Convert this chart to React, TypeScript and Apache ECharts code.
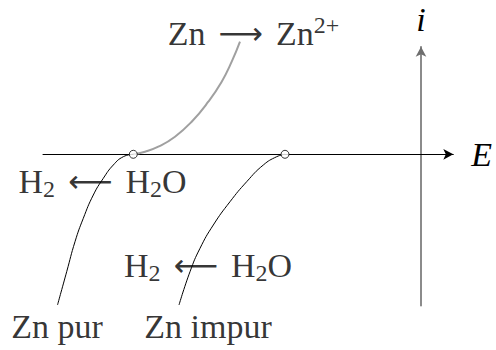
import React, { useEffect, useRef } from "react";
import * as echarts from "echarts";

// Potential E (x) and current i (y), arbitrary units
const oxidationPur: [number, number][] = [
  [-28.77, 0], [-27.6, 0.26], [-26.27, 0.76], [-24.6, 1.76], [-22.93, 3.26],
  [-21.27, 5.26], [-19.93, 7.26], [-18.93, 9.26], [-18.1, 11.26],
];
const reductionPur: [number, number][] = [
  [-28.77, 0], [-29.77, -0.24], [-30.77, -1.07], [-31.77, -2.4], [-32.77, -4.07],
  [-33.77, -6.4], [-34.6, -8.74], [-35.43, -11.74], [-36.35, -15.07],
];
const reductionImpur: [number, number][] = [
  [-13.6, 0], [-14.43, -0.24], [-15.77, -1.07], [-17.43, -2.74], [-19.1, -4.74],
  [-20.77, -7.07], [-22.1, -9.4], [-23.1, -11.74], [-24.2, -15.07],
];
const mixedPotentials: [number, number][] = [[-28.77, 0], [-13.6, 0]];

const labelTexts = [
  "Zn{arr|⟶}Zn{sup|2+}",
  "H{sub|2}{arr|⟵}H{sub|2}O",
  "H{sub|2}{arr|⟵}H{sub|2}O",
  "Zn pur",
  "Zn impur",
];
const labelPositions: [number, number][] = [
  [-16.75, 12.1], [-31.85, -2.7], [-21.3, -11.07], [-36.4, -17.2], [-21.3, -17.2],
];

const E_MIN = -37.8;
const E_MAX = 3.23;
const I_MIN = -15.14;
const I_MAX = 10.76;

const FONT = "'Liberation Serif', 'DejaVu Serif', serif";

export default function App() {
  const ref = useRef<HTMLDivElement>(null);
  useEffect(() => {
    if (!ref.current) return;
    const chart = echarts.init(ref.current, null, { renderer: "svg" });
    const baseText = { fontFamily: FONT, fontSize: 34, color: "#000" };
    chart.setOption({
      animation: false,
      backgroundColor: "#fff",
      grid: { left: 43, right: 42.7, top: 46.7, bottom: 44.3 },
      xAxis: {
        type: "value",
        min: E_MIN,
        max: E_MAX,
        name: "E",
        nameLocation: "end",
        nameGap: 18,
        nameTextStyle: { ...baseText, fontStyle: "italic" },
        axisLine: {
          show: true,
          onZero: true,
          symbol: ["none", "arrow"],
          symbolSize: [8, 10],
          lineStyle: { color: "#000", width: 1 },
        },
        axisTick: { show: false },
        axisLabel: { show: false },
        splitLine: { show: false },
      },
      yAxis: {
        type: "value",
        min: I_MIN,
        max: I_MAX,
        name: "i",
        nameLocation: "end",
        nameGap: 10,
        nameTextStyle: { ...baseText, fontStyle: "italic" },
        axisLine: {
          show: true,
          onZero: true,
          symbol: ["none", "arrow"],
          symbolSize: [8, 10],
          lineStyle: { color: "#6e6e6e", width: 1.6 },
        },
        axisTick: { show: false },
        axisLabel: { show: false },
        splitLine: { show: false },
      },
      series: [
        {
          type: "line",
          data: oxidationPur,
          smooth: true,
          showSymbol: false,
          clip: false,
          lineStyle: { color: "#a0a0a0", width: 2 },
          z: 2,
        },
        {
          type: "line",
          data: reductionPur,
          smooth: true,
          showSymbol: false,
          clip: false,
          lineStyle: { color: "#000", width: 1 },
          z: 2,
        },
        {
          type: "line",
          data: reductionImpur,
          smooth: true,
          showSymbol: false,
          clip: false,
          lineStyle: { color: "#000", width: 1 },
          z: 2,
        },
        {
          type: "scatter",
          data: mixedPotentials,
          symbol: "circle",
          symbolSize: 8,
          clip: false,
          itemStyle: { color: "#fff", borderColor: "#000", borderWidth: 1 },
          z: 5,
        },
        {
          type: "scatter",
          data: labelPositions.map((p, k) => ({ value: p, name: labelTexts[k] })),
          symbolSize: 0,
          clip: false,
          silent: true,
          label: {
            show: true,
            position: "inside",
            formatter: (p: any) => p.name,
            ...baseText,
            lineHeight: 40,
            rich: {
              sub: { fontFamily: FONT, fontSize: 24, lineHeight: 20, verticalAlign: "bottom", color: "#000" },
              sup: { fontFamily: FONT, fontSize: 24, lineHeight: 26, verticalAlign: "top", color: "#000" },
              arr: { fontFamily: "'DejaVu Sans', sans-serif", fontSize: 31, lineHeight: 40, color: "#000", padding: [0, 13, 0, 13] },
            },
          },
          z: 4,
        },
      ],
    });
    return () => chart.dispose();
  }, []);
  return (
    <div
      ref={ref}
      style={{ position: "fixed", left: 0, top: 0, width: 496, height: 350 }}
    />
  );
}
